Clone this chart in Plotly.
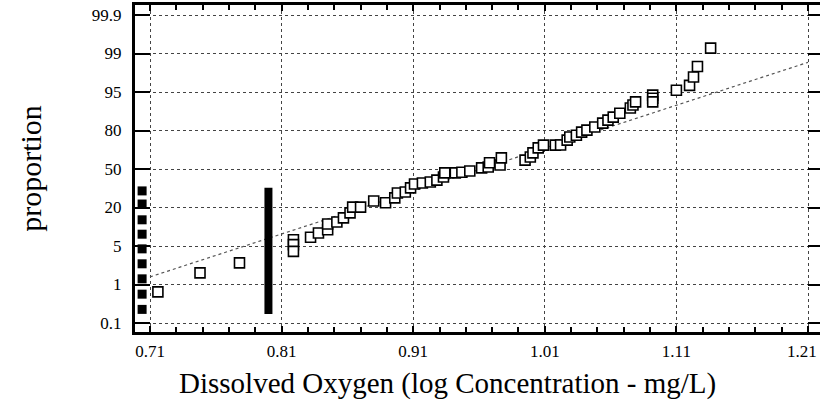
import numpy as np
import plotly.graph_objects as go
from statistics import NormalDist

# ---------------- data ----------------
prob_ticks = [0.1, 1, 5, 20, 50, 80, 95, 99, 99.9]
prob_labels = ["0.1", "1", "5", "20", "50", "80", "95", "99", "99.9"]
x_ticks = [0.71, 0.81, 0.91, 1.01, 1.11, 1.21]
x_labels = ["0.71", "0.81", "0.91", "1.01", "1.11", "1.21"]

# detected observations: log concentration and plotting position (%)
obs_x = [0.716, 0.748, 0.778, 0.819, 0.819, 0.819, 0.832, 0.838, 0.845, 0.845,
         0.852, 0.857, 0.862, 0.864, 0.870, 0.880, 0.889, 0.896, 0.898, 0.904,
         0.908, 0.911, 0.917, 0.923, 0.928, 0.933, 0.934, 0.942, 0.947, 0.953,
         0.962, 0.967, 0.968, 0.976, 0.977, 0.995, 0.999, 1.001, 1.005, 1.009,
         1.018, 1.022, 1.027, 1.029, 1.034, 1.038, 1.042, 1.048, 1.054, 1.058,
         1.062, 1.067, 1.075, 1.077, 1.079, 1.092, 1.092, 1.092, 1.110, 1.120,
         1.123, 1.126, 1.136]
obs_p = [0.67, 1.7, 2.6, 6.5, 5.3, 4.1, 7.2, 8.5, 9.6, 11.8,
         12.6, 14.5, 17.0, 20.2, 20.2, 24.2, 23.0, 26.4, 30.0, 30.7,
         34.0, 37.1, 38.0, 38.8, 40.4, 43.0, 46.6, 46.6, 47.2, 48.3,
         51.0, 51.7, 55.4, 53.5, 59.6, 57.7, 60.3, 63.8, 67.8, 69.9,
         69.9, 70.0, 73.6, 75.8, 77.0, 79.0, 80.2, 82.0, 84.0, 85.5,
         86.9, 88.5, 90.5, 91.5, 92.5, 94.3, 93.5, 92.5, 95.3, 96.1,
         97.2, 98.2, 99.25]

# censored (non-detect) values shown as filled squares at the left
cens_x = [0.704] * 9
cens_p = [31.6, 22.2, 13.6, 8.1, 4.5, 2.5, 1.3, 0.59, 0.24]

# stack of tied censored values at the detection limit
bar_x = [0.80, 0.80]
bar_p = [34.0, 0.18]

# fitted lognormal line
fit_x = [0.71, 1.21]
fit_p = [1.42, 98.5]

x_title = "Dissolved Oxygen (log Concentration - mg/L)"
y_title = "proportion"

# ---------------- probability scale ----------------
nd = NormalDist()
tick_z = [nd.inv_cdf(p / 100.0) for p in prob_ticks]
tick_pos = list(range(len(prob_ticks)))


def prob_scale(values):
    z = [nd.inv_cdf(v / 100.0) for v in values]
    return list(np.interp(z, tick_z, tick_pos))


FONT = "Liberation Serif"

fig = go.Figure()

fig.add_trace(go.Scatter(
    x=fit_x, y=prob_scale(fit_p), mode="lines",
    line=dict(color="#555555", width=1.2, dash="dot"),
    hoverinfo="skip", showlegend=False))

fig.add_trace(go.Scatter(
    x=bar_x, y=prob_scale(bar_p), mode="lines",
    line=dict(color="black", width=8),
    hoverinfo="skip", showlegend=False))

fig.add_trace(go.Scatter(
    x=cens_x, y=prob_scale(cens_p), mode="markers",
    marker=dict(symbol="square", size=9, color="black"),
    hoverinfo="skip", showlegend=False))

fig.add_trace(go.Scatter(
    x=obs_x, y=prob_scale(obs_p), mode="markers",
    marker=dict(symbol="square", size=10, color="white",
                line=dict(color="black", width=1.6)),
    showlegend=False))

# invisible trace to anchor the right-hand tick axis
fig.add_trace(go.Scatter(x=[None], y=[None], yaxis="y2",
                         showlegend=False, hoverinfo="skip"))

x_lo = 0.71 - 15 / 1316.0
x_hi = x_lo + 685 / 1316.0
y_lo = -9 / 38.5
y_hi = 8 + 10 / 38.5

# the last x label sits at the right edge: draw it right-aligned so it stays visible
tick_text_axis = x_labels[:-1] + [""]

fig.update_layout(
    width=820, height=408,
    margin=dict(l=135, r=0, t=5, b=76, autoexpand=False),
    paper_bgcolor="white", plot_bgcolor="white",
    font=dict(family=FONT, color="black", size=17),
    xaxis=dict(
        range=[x_lo, x_hi], automargin=False,
        tickvals=x_ticks, ticktext=tick_text_axis,
        ticks="inside", ticklen=6, tickwidth=1.5, tickcolor="black",
        showline=True, linewidth=3, linecolor="black", mirror="ticks",
        showgrid=True, gridcolor="#444444", gridwidth=1, griddash="dot",
        zeroline=False,
        tickfont=dict(family=FONT, size=17),
        ticklabelstandoff=2, ticklabeloverflow="allow",
        minor=dict(tick0=0.71, dtick=0.02, ticks="inside", ticklen=5,
                   tickwidth=1.5, tickcolor="black", showgrid=False),
    ),
    yaxis=dict(
        range=[y_lo, y_hi], automargin=False,
        tickvals=tick_pos, ticktext=prob_labels,
        ticks="inside", ticklen=15, tickwidth=2, tickcolor="black",
        showline=True, linewidth=3, linecolor="black", mirror=False,
        showgrid=True, gridcolor="#444444", gridwidth=1, griddash="dot",
        zeroline=False,
        tickfont=dict(family=FONT, size=17),
        ticklabelstandoff=7,
        title=dict(text=y_title, font=dict(family=FONT, size=30),
                   standoff=42),
    ),
    yaxis2=dict(
        overlaying="y", side="right", range=[y_lo, y_hi], automargin=False,
        tickvals=tick_pos, showticklabels=False,
        ticks="inside", ticklen=12, tickwidth=2, tickcolor="black",
        showline=False, showgrid=False, zeroline=False,
    ),
    annotations=[
        dict(text=x_title, xref="paper", yref="paper",
             x=(447 - 135) / 685.0, y=-(383 - 332) / 327.0,
             xanchor="center", yanchor="middle", showarrow=False,
             font=dict(family=FONT, size=29, color="black")),
        dict(text=x_labels[-1], xref="paper", yref="paper",
             x=1.0, y=-(351 - 332) / 327.0,
             xanchor="right", yanchor="middle", showarrow=False,
             xshift=-1,
             font=dict(family=FONT, size=17, color="black")),
    ],
)

fig.write_html("out.html", config={"displayModeBar": False},
               post_script="document.body.style.margin='0';")
